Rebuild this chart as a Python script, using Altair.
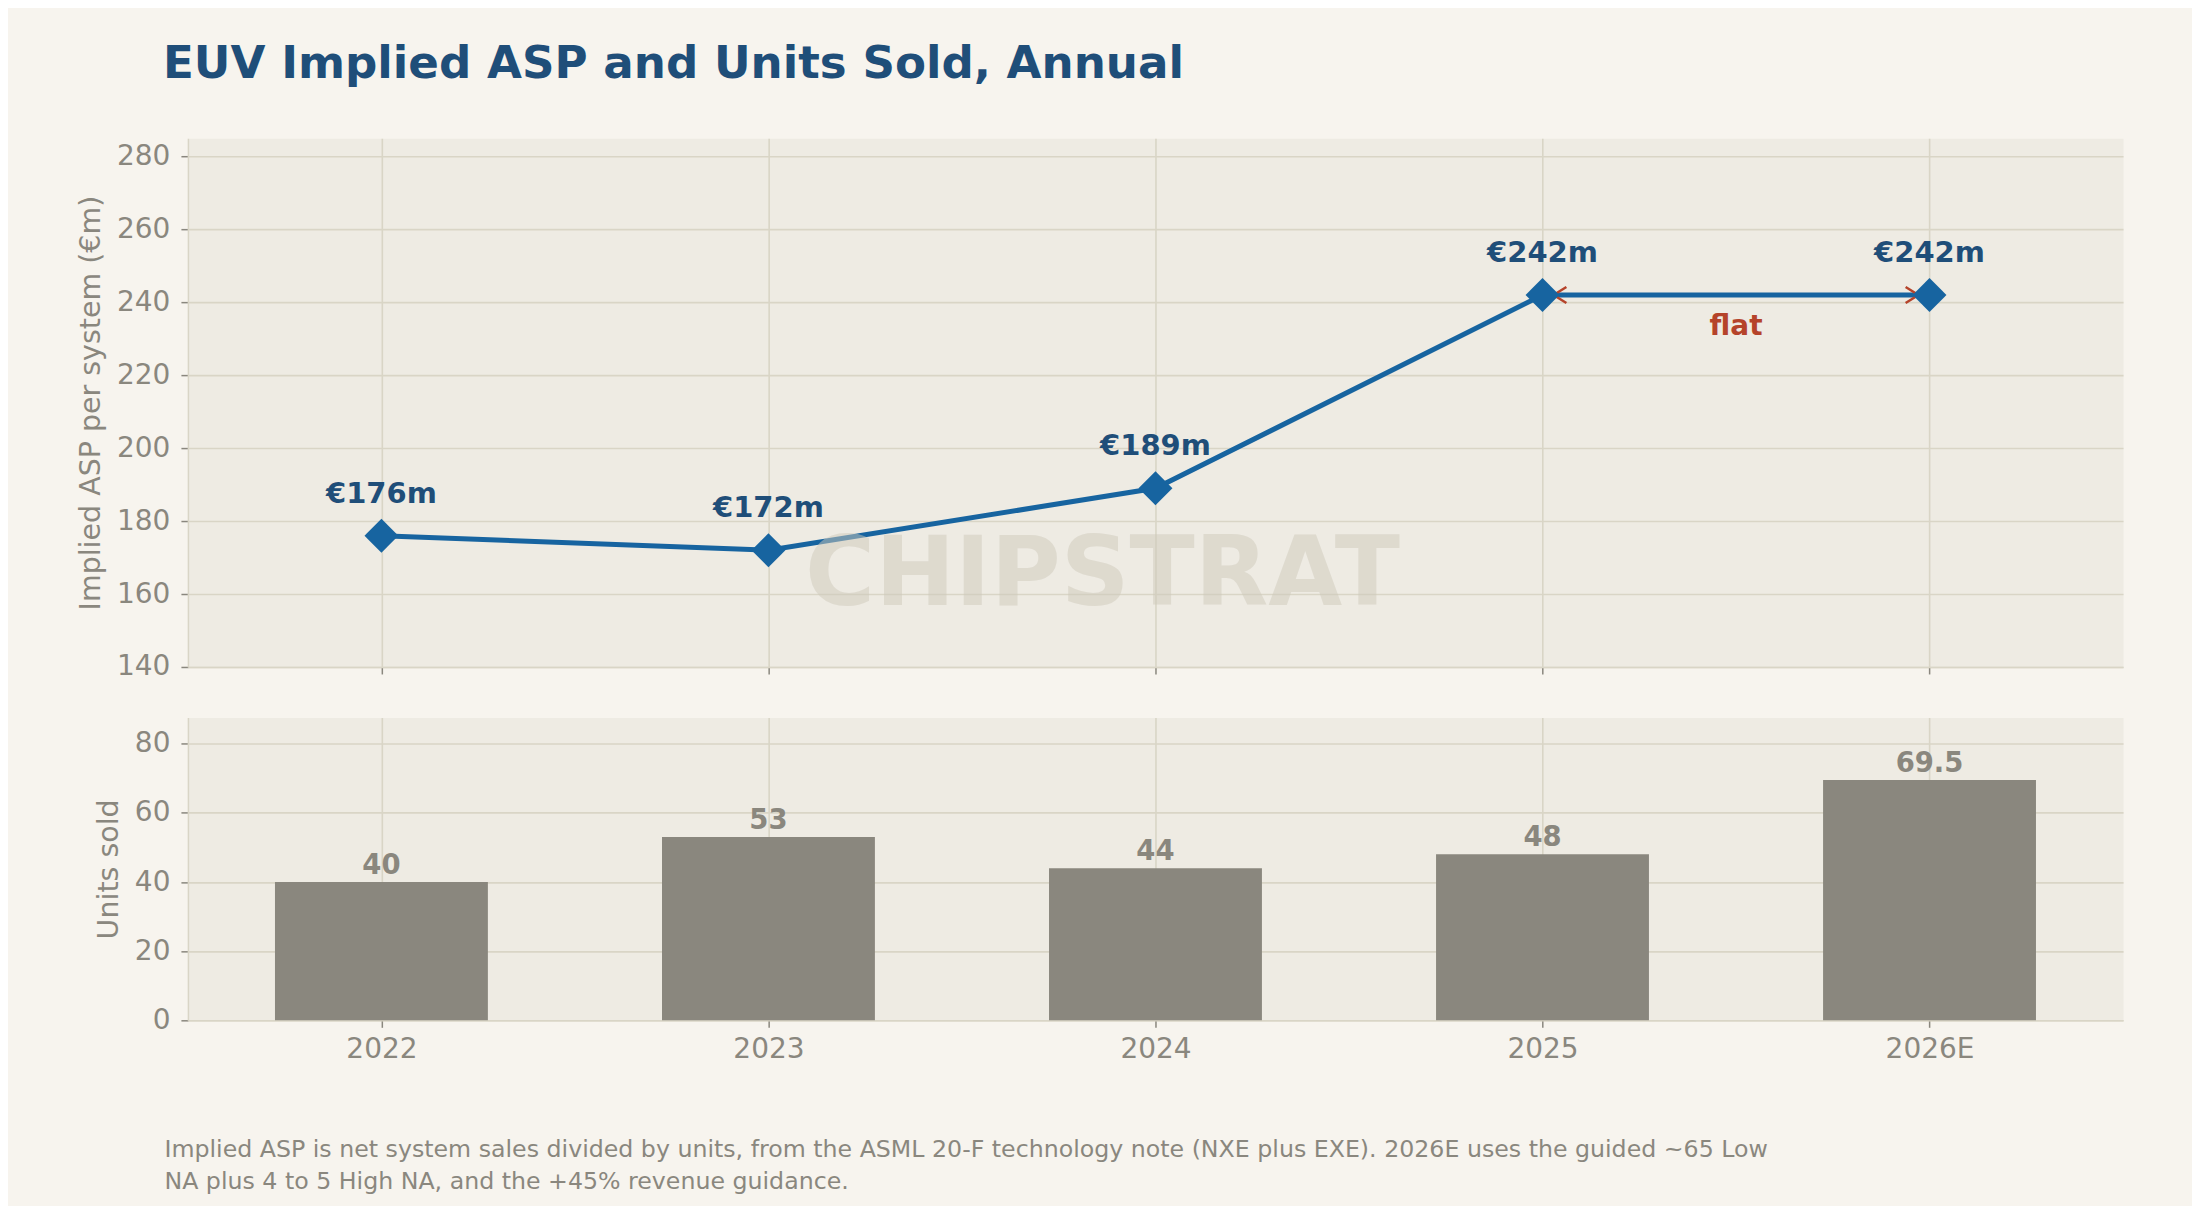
import altair as alt
import pandas as pd

# values
YEARS = ["2022", "2023", "2024", "2025", "2026E"]
ASP_EUR_M = [176, 172, 189, 242, 242]
UNITS_SOLD = [40, 53, 44, 48, 69.5]
ASP_TICKS = [140, 160, 180, 200, 220, 240, 260, 280]
UNIT_TICKS = [0, 20, 40, 60, 80]
FLAT_FROM = "2025"
FLAT_TO = "2026E"
FLAT_LEVEL = 242

TITLE = "EUV Implied ASP and Units Sold, Annual"
NOTE = [
    "Implied ASP is net system sales divided by units, from the ASML 20-F technology note (NXE plus EXE). 2026E uses the guided ~65 Low",
    "NA plus 4 to 5 High NA, and the +45% revenue guidance.",
]
WATERMARK = "CHIPSTRAT"

FONT = "DejaVu Sans"
PAGE_BG = "#f7f4ee"
PANEL_BG = "#eeebe3"
GRID = "#d9d5c6"
MUTED = "#8a877e"
NAVY = "#1f4e79"
BLUE = "#1764a0"
RUST = "#b5432a"

PLOT_W = 1936
TOP_H = 529
BOTTOM_H = 303
HALF_STEP = PLOT_W / len(YEARS) / 2


def fmt_units(v):
    return f"{v:g}"


asp = pd.DataFrame({
    "year": YEARS,
    "asp": ASP_EUR_M,
    "label": [f"€{v}m" for v in ASP_EUR_M],
})
units = pd.DataFrame({
    "year": YEARS,
    "units": UNITS_SOLD,
    "label": [fmt_units(v) for v in UNITS_SOLD],
})
flat = pd.DataFrame({"year": [FLAT_FROM], "end": [FLAT_TO], "asp": [FLAT_LEVEL]})
flat_left = pd.DataFrame({"year": [FLAT_FROM], "asp": [FLAT_LEVEL]})
flat_right = pd.DataFrame({"year": [FLAT_TO], "asp": [FLAT_LEVEL]})
mark_pos = pd.DataFrame({"year": ["2024"], "asp": [165.0]})

x_scale = alt.Scale(type="point", domain=YEARS, padding=0.5)

x_top = alt.X(
    "year:N",
    scale=x_scale,
    axis=alt.Axis(title=None, labels=False, ticks=True, grid=True),
)
y_top = alt.Y(
    "asp:Q",
    scale=alt.Scale(domain=[140, 285], nice=False, zero=False),
    axis=alt.Axis(title="Implied ASP per system (€m)", values=ASP_TICKS),
)

# arrow shaft sits under the blue line, only the heads peek out
shaft = alt.Chart(flat).mark_rule(color=RUST, strokeWidth=2).encode(
    x=x_top, x2="end:N", y=y_top,
)
line = alt.Chart(asp).mark_line(color=BLUE, strokeWidth=5).encode(x=x_top, y=y_top)

head_left = alt.Chart(flat_left).mark_point(
    shape="M0.8,-1L-0.8,0L0.8,1", filled=False, color=RUST, strokeWidth=2.5,
    size=256, opacity=1, xOffset=17.5,
).encode(x=x_top, y=y_top)
head_right = alt.Chart(flat_right).mark_point(
    shape="M-0.8,-1L0.8,0L-0.8,1", filled=False, color=RUST, strokeWidth=2.5,
    size=256, opacity=1, xOffset=-17.5,
).encode(x=x_top, y=y_top)

points = alt.Chart(asp).mark_point(
    shape="diamond", filled=True, color=BLUE, size=1150, opacity=1
).encode(x=x_top, y=y_top)

asp_labels = alt.Chart(asp).mark_text(
    font=FONT, fontSize=29, fontWeight="bold", color=NAVY,
    baseline="alphabetic", dy=-33,
).encode(x=x_top, y=y_top, text="label:N")

flat_label = alt.Chart(flat_left).mark_text(
    text="flat", font=FONT, fontSize=28, fontWeight="bold", color=RUST,
    baseline="alphabetic", dy=40, xOffset=HALF_STEP,
).encode(x=x_top, y=y_top)

watermark = alt.Chart(mark_pos).mark_text(
    text=WATERMARK, font=FONT, fontSize=95.6, fontWeight="bold",
    color="#cfcabb", opacity=0.5, baseline="middle", xOffset=-53,
).encode(x=x_top, y=y_top)

top = alt.layer(
    shaft, line, head_left, head_right, points, asp_labels, flat_label, watermark
).properties(width=PLOT_W, height=TOP_H)

x_bottom = alt.X(
    "year:N",
    scale=x_scale,
    axis=alt.Axis(title=None, labelAngle=0, labelPadding=8, grid=True),
)
y_bottom = alt.Y(
    "units:Q",
    scale=alt.Scale(domain=[0, 87.6], nice=False),
    axis=alt.Axis(title="Units sold", values=UNIT_TICKS),
)

bars = alt.Chart(units).mark_bar(color=MUTED, size=213).encode(x=x_bottom, y=y_bottom)
bar_labels = alt.Chart(units).mark_text(
    font=FONT, fontSize=27.5, fontWeight="bold", color=MUTED,
    baseline="alphabetic", dy=-8,
).encode(x=x_bottom, y=y_bottom, text="label:N")

bottom = alt.layer(bars, bar_labels).properties(
    width=PLOT_W,
    height=BOTTOM_H,
    title=alt.TitleParams(
        NOTE, orient="bottom", anchor="start", frame="group", baseline="top",
        font=FONT, fontSize=23.7, fontWeight="normal", color=MUTED,
        lineHeight=32, offset=74.5, dx=-23.5,
    ),
)

chart = (
    alt.vconcat(top, bottom, spacing=34.5)
    .properties(
        title=alt.TitleParams(
            TITLE, anchor="start", frame="bounds", font=FONT, fontSize=45.2,
            fontWeight="bold", color=NAVY, offset=51, dx=87,
        ),
        background=PAGE_BG,
        padding={"left": 68, "top": 33, "right": 68, "bottom": 14},
    )
    .configure_view(fill=PANEL_BG, stroke="transparent")
    .configure_axis(
        labelFont=FONT, labelFontSize=28, labelColor=MUTED,
        titleFont=FONT, titleFontSize=28.5, titleColor=MUTED, titleFontWeight="normal",
        titlePadding=11, labelPadding=11,
        tickColor=MUTED, tickSize=7, tickWidth=1.5,
        domainColor=GRID, domainWidth=1.5,
        gridColor=GRID, gridWidth=1.6,
    )
)

chart.save("out.html", embed_options={"renderer": "svg", "actions": False})
